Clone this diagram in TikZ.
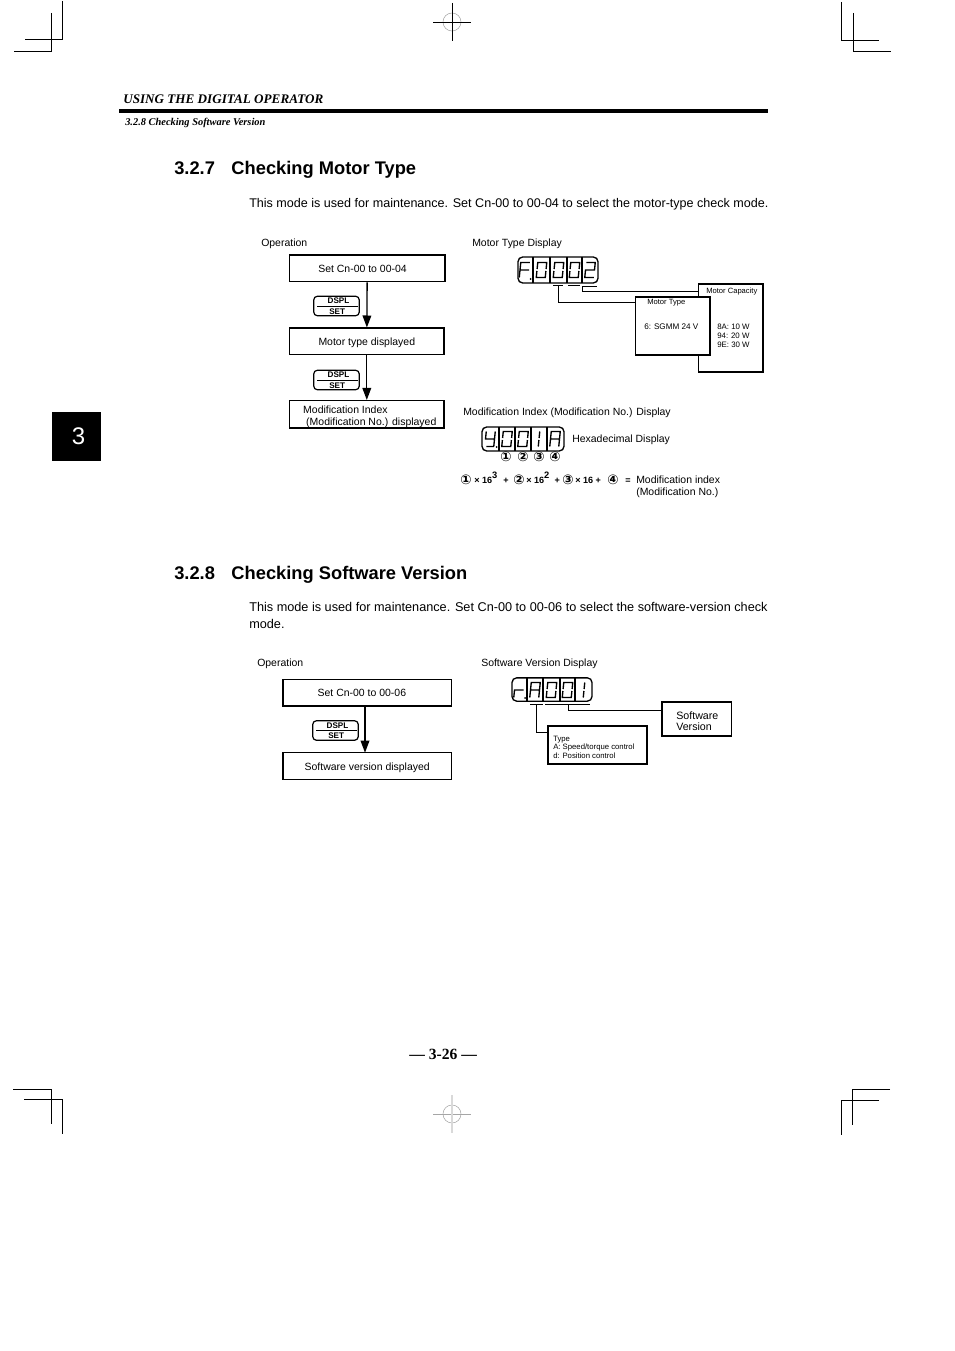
\documentclass[tikz,border=0pt]{standalone}
\usepackage{fontspec}
\setmainfont{Liberation Sans}
\newfontfamily\headserif{Liberation Serif}
\newfontfamily\symfont{DejaVu Sans}
\usetikzlibrary{arrows.meta, positioning}

% seven segment glyphs, drawn round the centre of a cell
\newcommand{\digzero}{(-4.5,-1) -- (-4.5,-7.5) -- (4.5,-7.5) -- (4.5,-1) (4.5,1) -- (4.5,7.5) -- (-4.5,7.5) -- (-4.5,1)}
\newcommand{\digone}{(0,-7.5) -- (0,-1) (0,1) -- (0,7.5)}
\newcommand{\digtwo}{(-4.5,-7.5) -- (4.5,-7.5) -- (4.5,0) -- (-4.5,0) -- (-4.5,7.5) -- (4.5,7.5)}
\newcommand{\digfour}{(-4.5,-7.5) -- (-4.5,0) -- (4.5,0) (4.5,-7.5) -- (4.5,7.5) (-3,7.5) -- (4.5,7.5)}
\newcommand{\digF}{(4.5,-7.5) -- (-4.5,-7.5) -- (-4.5,7.5) (-4.5,0) -- (4.5,0)}
\newcommand{\digA}{(-4.5,7.5) -- (-4.5,-7.5) -- (4.5,-7.5) -- (4.5,7.5) (-4.5,0) -- (4.5,0)}
\newcommand{\digr}{(-4.5,7.5) -- (-4.5,0) -- (4.5,0)}
\newcommand{\segdigit}[3]{\draw[segstroke, shift={(#1,#2)}, xslant=0.1] #3;}

\tikzset{
  lbl/.style={anchor=base west, inner sep=0pt, font=\fontsize{7.85}{9.5}\selectfont},
  tiny/.style={anchor=base west, inner sep=0pt, font=\fontsize{5.7}{7}\selectfont},
  small/.style={anchor=base west, inner sep=0pt, font=\fontsize{6.1}{7.2}\selectfont},
  bodytxt/.style={anchor=base west, inner sep=0pt, font=\fontsize{9.42}{12}\selectfont},
  headtxt/.style={anchor=base west, inner sep=0pt, font=\fontsize{13.72}{16}\selectfont\bfseries},
  flowbox/.style={draw, line width=1pt, inner sep=0pt, font=\fontsize{7.85}{9}\selectfont},
  flowline/.style={flowbox, text height=7.2pt, text depth=0.8pt},
  infobox/.style={draw, fill=white, line width=1pt, inner sep=0pt},
  flow/.style={line width=1pt, -{Triangle[width=6.5pt,length=9pt]}},
  lead/.style={line width=0.75pt},
  crop/.style={line width=0.7pt},
  keybox/.style={draw, line width=0.9pt, rounded corners=2.5pt, minimum width=34pt, minimum height=14.5pt, inner sep=0pt},
  keytxt/.style={inner sep=0pt, font=\fontsize{6.1}{7}\selectfont\bfseries},
  dispbox/.style={draw, line width=1pt, rounded corners=3.5pt, inner sep=0pt},
  segstroke/.style={line width=1pt},
  circnum/.style={inner sep=0pt, font=\symfont\fontsize{10}{10}\selectfont\bfseries},
  eqterm/.style={anchor=base west, inner sep=0pt, font=\fontsize{6.8}{8}\selectfont\bfseries},
}

\begin{document}
\begin{tikzpicture}[x=0.75pt, y=-0.75pt]
    \useasboundingbox (0,0) rectangle (954,1351);

    % Crop marks
    \draw[crop] (62,1) -- (62,39) -- (25,39);
    \draw[crop] (51.5,13) -- (51.5,51) -- (14,51);
    \draw[crop] (841,2) -- (841,40) -- (879,40);
    \draw[crop] (853,13) -- (853,51) -- (891,51);
    \draw[crop] (13,1089) -- (51.5,1089) -- (51.5,1124);
    \draw[crop] (24,1099) -- (62,1099) -- (62,1134);
    \draw[crop] (890,1089) -- (852,1089) -- (852,1125);
    \draw[crop] (879,1100) -- (841,1100) -- (841,1135);

    % Register marks
    \draw[line width=0.4pt, gray!70] (452,22) circle (9);
    \draw[line width=0.7pt] (433,22) -- (471,22) (452,3) -- (452,41);
    \draw[line width=0.4pt, gray!70] (452,1114) circle (9);
    \draw[line width=0.6pt, gray!70] (433,1114) -- (471,1114);
    \draw[line width=0.8pt, gray!30] (452,1095) -- (452,1133);

    % Page head
    \node[anchor=base west, inner sep=0pt, font=\headserif\fontsize{9.85}{12}\selectfont\bfseries\itshape] (runhead) at (123,104) {USING THE DIGITAL OPERATOR};
    \draw[line width=3pt] (119,111) -- (768,111);
    \node[anchor=base west, inner sep=0pt, font=\headserif\fontsize{7.8}{9}\selectfont\bfseries\itshape] (runsub) at (125,125.5) {3.2.8 Checking Software Version};
    \node[fill=black, text=white, minimum width=36.75pt, minimum height=36.75pt, inner sep=0pt, font=\fontsize{18}{20}\selectfont] (chaptab) at (76.5,436.5) {\kern3pt 3};

    % 3.2.7
    \node[headtxt] (motorhead) at (174,175) {3.2.7\hspace{12.4pt}Checking Motor Type};
    \node[bodytxt] (motorbody) at (249,208) {This mode is used for maintenance. Set Cn-00 to 00-04 to select the motor-type check mode.};
    \node[lbl] (motorop) at (261,246.5) {Operation};
    \node[lbl] (motordisp) at (472,246.5) {Motor Type Display};

    \node[flowline, minimum width=116.6pt, minimum height=20pt] (setmotor) at (367.2,268.3) {\kern-7pt Set Cn-00 to 00-04};
    \node[flowline, minimum width=115.8pt, minimum height=20pt] (motorshown) at (366.8,341.5) {Motor type displayed};
    \node[flowbox, minimum width=115.8pt, minimum height=20.5pt, align=left] (modshown) at (366.8,414.3) {\rule{0pt}{9.3pt}\hspace*{4.5pt}Modification Index\\\hspace*{6.75pt}(Modification No.) displayed};
    \draw[flow] (setmotor) -- (motorshown);
    \draw[flow] (motorshown) -- (modshown);

    % F.0002 display
    \node[dispbox, minimum width=60pt, minimum height=19.5pt] (dispmotor) at (558,270) {};
    \foreach \dx in {533,550,567,582} \draw[line width=0.8pt] (\dx,257) -- (\dx,283);
    \segdigit{524.5}{270}{\digF}
    \fill (530.5,279) circle (1);
    \segdigit{541.5}{270}{\digzero}
    \segdigit{558.5}{270}{\digzero}
    \segdigit{574.5}{270}{\digzero}
    \segdigit{590}{270}{\digtwo}
    \draw[lead] (553,286) -- (563,286) (568,286) -- (580,286) (582,287) -- (597,287);

    \node[infobox, minimum width=48.5pt, minimum height=66pt] (capbox) at (730.5,328) {};
    \node[tiny] (captitle) at (706,294) {Motor Capacity};
    \node[tiny, align=left, anchor=north west, font=\fontsize{5.9}{6.6}\selectfont] (caplist) at (717,324) {8A: 10 W\\94: 20 W\\9E: 30 W};
    \node[infobox, minimum width=55.9pt, minimum height=43.5pt] (typebox) at (672.7,326) {};
    \node[tiny] (typetitle) at (647,304.5) {Motor Type};
    \node[tiny, font=\fontsize{6.1}{7}\selectfont] (typeline) at (644,330) {6: SGMM 24 V};
    \coordinate (typemark) at (558,286);
    \coordinate (typein) at (635.5,303);
    \coordinate (capmark) at (582,287);
    \coordinate (capin) at (698,292);
    \draw[lead] (typemark) |- (typein);
    \draw[lead] (capmark) |- (capin);

    % Modification index
    \node[lbl] (modlabel) at (463,415) {Modification Index (Modification No.) Display};
    \node[dispbox, minimum width=61.5pt, minimum height=18pt] (dispmod) at (523,439) {};
    \foreach \dx in {499,515,531,547} \draw[line width=0.8pt] (\dx,427) -- (\dx,451);
    \segdigit{490}{439}{\digfour}
    \fill (496.5,447) circle (1);
    \segdigit{507}{439}{\digzero}
    \segdigit{523}{439}{\digzero}
    \segdigit{539}{439}{\digone}
    \segdigit{555}{439}{\digA}
    \node[lbl] (hexlabel) at (572,442) {Hexadecimal Display};
    \node[circnum] (digone) at (506,457) {①};
    \node[circnum] (digtwo) at (523,457) {②};
    \node[circnum] (digthree) at (539,457) {③};
    \node[circnum] (digfour) at (555,457) {④};

    \node[circnum] (termone) at (466,480) {①};
    \node[eqterm] (powone) at (474,483) {× 16\raisebox{3.5pt}{\fontsize{7}{8}\selectfont 3}\hspace{4.5pt}+};
    \node[circnum] (termtwo) at (519,480) {②};
    \node[eqterm] (powtwo) at (526,483) {× 16\raisebox{3.5pt}{\fontsize{7}{8}\selectfont 2}\hspace{4pt}+};
    \node[circnum] (termthree) at (568,480) {③};
    \node[eqterm] (powthree) at (575,483) {× 16 +};
    \node[circnum] (termfour) at (613,480) {④};
    \node[eqterm] (eqsign) at (625,483) {=};
    \node[lbl] (modresult) at (636,483) {Modification index};
    \node[lbl] (modresulttwo) at (636,495) {(Modification No.)};

    % 3.2.8
    \node[headtxt] (softhead) at (174,579) {3.2.8\hspace{12.4pt}Checking Software Version};
    \node[bodytxt, font=\fontsize{9.52}{12}\selectfont] (softbody) at (249,611) {This mode is used for maintenance. Set Cn-00 to 00-06 to select the software-version check};
    \node[bodytxt, font=\fontsize{9.52}{12}\selectfont] (softbodytwo) at (249,628) {mode.};
    \node[lbl] (softop) at (257,666.5) {Operation};
    \node[lbl] (softdisp) at (481,666.5) {Software Version Display};

    \node[flowline, minimum width=126.4pt, minimum height=20pt] (setsoft) at (367.2,692.5) {\kern-8pt Set Cn-00 to 00-06};
    \node[flowline, minimum width=126.4pt, minimum height=20pt] (softshown) at (367.2,766) {Software version displayed};
    \coordinate (softtop) at (365,705.5);
    \coordinate (softend) at (365,752.7);
    \draw[flow] (softtop) -- (softend);

    % r.A001 display
    \node[dispbox, minimum width=60pt, minimum height=17.5pt] (dispsoft) at (552,689.5) {};
    \foreach \dx in {527,543,560,575} \draw[line width=0.8pt] (\dx,678) -- (\dx,701);
    \segdigit{519}{690}{\digr}
    \fill (525,698) circle (1);
    \segdigit{535}{690}{\digA}
    \segdigit{551.5}{690}{\digzero}
    \segdigit{567.5}{690}{\digzero}
    \segdigit{584}{690}{\digone}
    \draw[lead] (530,704) -- (543,704) (545,704) -- (590,704);

    \node[infobox, minimum width=52.1pt, minimum height=25.5pt] (softver) at (696.8,719) {};
    \node[lbl, font=\fontsize{8}{9.5}\selectfont] (softvera) at (676,719) {Software};
    \node[lbl, font=\fontsize{8}{9.5}\selectfont] (softverb) at (676,730) {Version};
    \node[infobox, minimum width=74.3pt, minimum height=28.5pt] (softtype) at (597.5,745) {};
    \node[tiny, font=\fontsize{5.8}{7}\selectfont] (softtypea) at (553,741) {Type};
    \node[tiny, font=\fontsize{5.8}{7}\selectfont] (softtypeb) at (553,749) {A: Speed/torque control};
    \node[tiny, font=\fontsize{5.8}{7}\selectfont] (softtypec) at (553,758) {d: Position control};
    \coordinate (softtypemark) at (536,704);
    \coordinate (softtypein) at (548,732);
    \coordinate (softvermark) at (568,704);
    \coordinate (softverin) at (662,710);
    \draw[lead] (softtypemark) |- (softtypein);
    \draw[lead] (softvermark) |- (softverin);

    % Keys
    \foreach \kname/\kx/\ky in {keyone/336.5/306, keytwo/336.5/380, keythree/335.5/730.5} {
      \node[keybox] (\kname) at (\kx,\ky) {};
      \draw[line width=0.7pt] ([xshift=3pt]\kname.west) -- ([xshift=-1.5pt]\kname.east);
      \node[keytxt] (\kname dspl) at ([xshift=1.5pt,yshift=3.6pt]\kname.center) {DSPL};
      \node[keytxt] (\kname set) at ([xshift=0.5pt,yshift=-4pt]\kname.center) {SET};
    }

    % Page number
    \node[anchor=base west, inner sep=0pt, font=\headserif\fontsize{11.7}{14}\selectfont\bfseries] (pageno) at (409,1059) {— 3-26 —};
\end{tikzpicture}
\end{document}
